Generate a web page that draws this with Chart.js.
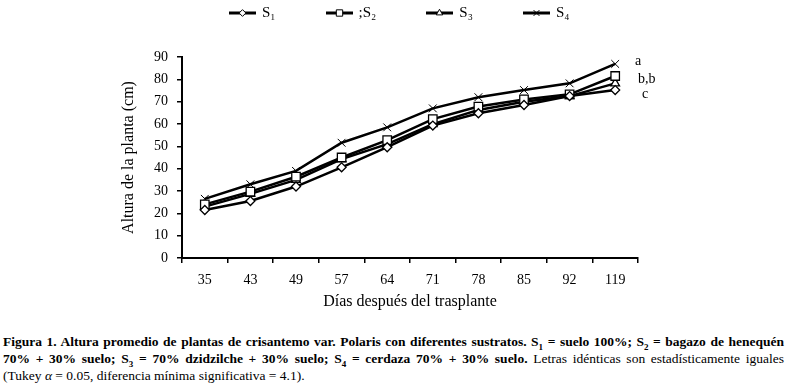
<!DOCTYPE html>
<html>
<head>
<meta charset="utf-8">
<script src="https://cdn.jsdelivr.net/npm/chart.js@4"></script>
<style>
body { margin: 0; background: #fff; font-family: "Liberation Serif", "Times New Roman", serif; }
#wrap { position: relative; width: 786px; height: 387px; overflow: hidden; }
#legend { position: absolute; top: 4px; left: 229px; display: flex; gap: 50px; font-size: 15px; }
.item { display: flex; align-items: center; }
.item canvas { margin-right: 6px; }
#box { position: absolute; left: 0; top: 0; width: 786px; height: 320px; }
#caption { position: absolute; left: 3px; top: 333px; width: 781px; font-size: 13.5px; line-height: 17px; color: #000; }
#caption div { white-space: nowrap; text-align: justify; text-align-last: justify; }
#caption div.last { text-align-last: left; }
sub { font-size: 9px; line-height: 0; }
</style>
</head>
<body>
<div id="wrap">
  <div id="box"><canvas id="chart"></canvas></div>
  <div id="legend"></div>
  <div id="caption">
    <div><b>Figura 1. Altura promedio de plantas de crisantemo var. Polaris con diferentes sustratos. S<sub>1</sub> = suelo 100%; S<sub>2</sub> = bagazo de henequén</b></div>
    <div><b>70% + 30% suelo; S<sub>3</sub> = 70% dzidzilche + 30% suelo; S<sub>4</sub> = cerdaza 70% + 30% suelo.</b> Letras idénticas son estadísticamente iguales</div>
    <div class="last">(Tukey <i>α</i> = 0.05, diferencia mínima significativa = 4.1).</div>
  </div>
</div>
<script>
const days = ['35', '43', '49', '57', '64', '71', '78', '85', '92', '119'];
const s1 = [21.5, 25.5, 32, 40.6, 49.6, 59.3, 64.8, 68.5, 72.5, 75.2];
const s2 = [24, 29.7, 36.4, 45, 52.8, 62.2, 67.8, 71, 73.3, 81.5];
const s3 = [23, 28.7, 35, 44.3, 51, 59.9, 66.3, 70, 72.5, 78.2];
const s4 = [26.5, 33, 39, 51.6, 58.5, 67, 72, 75.2, 78.2, 86.9];
const seriesNames = ['S₁', ';S₂', 'S₃', 'S₄'];
const markers = ['rectRot', 'rect', 'triangle', 'crossRot'];
const markerSizes = [4.5, 6, 5, 5.5];
const tukeyLetters = ['a', 'b,b', 'c'];
const letterValues = [88.2, 80.2, 73.4];

const serif = '"Liberation Serif", "Times New Roman", serif';

const makeDataset = (name, values, i) => ({
    label: name,
    data: values,
    borderColor: '#000',
    borderWidth: 2.5,
    backgroundColor: '#fff',
    pointStyle: markers[i],
    pointRadius: markerSizes[i],
    pointBorderWidth: i === 3 ? 1 : 1.3,
    pointBorderColor: '#000',
    pointBackgroundColor: '#fff',
    tension: 0
});

// letters at the right end of the lines
const tukeyPlugin = {
    id: 'tukey',
    afterDatasetsDraw(chart) {
        const ctx = chart.ctx;
        const y = chart.scales.y;
        const offsets = [-3, 0, 4];
        ctx.save();
        ctx.fillStyle = '#000';
        ctx.font = '14px ' + serif;
        ctx.textBaseline = 'middle';
        tukeyLetters.forEach((t, i) => {
            ctx.fillText(t, chart.chartArea.right + offsets[i], y.getPixelForValue(letterValues[i]));
        });
        ctx.restore();
    }
};

const chart = new Chart(document.getElementById('chart'), {
    type: 'line',
    data: {
        labels: days,
        datasets: [s1, s2, s3, s4].map((v, i) => makeDataset(seriesNames[i], v, i))
    },
    options: {
        responsive: true,
        maintainAspectRatio: false,
        animation: false,
        layout: { padding: { left: 115, right: 148, top: 57, bottom: 5 } },
        plugins: {
            legend: { display: false },
            tooltip: { enabled: false }
        },
        scales: {
            x: {
                offset: true,
                grid: { offset: true, drawOnChartArea: false, color: '#000', lineWidth: 1.5, tickLength: 5 },
                border: { color: '#000', width: 2 },
                ticks: { color: '#000', font: { family: serif, size: 14 }, padding: 9, maxRotation: 0 },
                title: { display: true, text: 'Días después del trasplante', color: '#000', font: { family: serif, size: 16 } },
                afterFit: s => { s.height = 57; }
            },
            y: {
                min: 0,
                max: 90,
                ticks: { stepSize: 10, color: '#000', font: { family: serif, size: 14 }, padding: 9 },
                grid: { drawOnChartArea: false, color: '#000', lineWidth: 1.5, tickLength: 5 },
                border: { color: '#000', width: 2 },
                title: { display: true, text: 'Altura de la planta (cm)', color: '#000', font: { family: serif, size: 16 } },
                afterFit: s => { s.width = 67; }
            }
        }
    },
    plugins: [tukeyPlugin]
});

// html legend: short line with the series marker
const legendEl = document.getElementById('legend');
chart.data.datasets.forEach((ds, i) => {
    const item = document.createElement('div');
    item.className = 'item';
    const icon = document.createElement('canvas');
    icon.width = 27;
    icon.height = 14;
    const c = icon.getContext('2d');
    c.strokeStyle = '#000';
    c.lineWidth = 3;
    c.beginPath();
    c.moveTo(0, 7);
    c.lineTo(27, 7);
    c.stroke();
    c.fillStyle = '#fff';
    c.lineWidth = 1;
    Chart.helpers.drawPoint(c, { pointStyle: ds.pointStyle, radius: ds.pointRadius * 0.75, borderWidth: 1, rotation: 0 }, 13.5, 7);
    item.appendChild(icon);
    const label = document.createElement('span');
    label.textContent = ds.label;
    item.appendChild(label);
    legendEl.appendChild(item);
});
</script>
</body>
</html>
